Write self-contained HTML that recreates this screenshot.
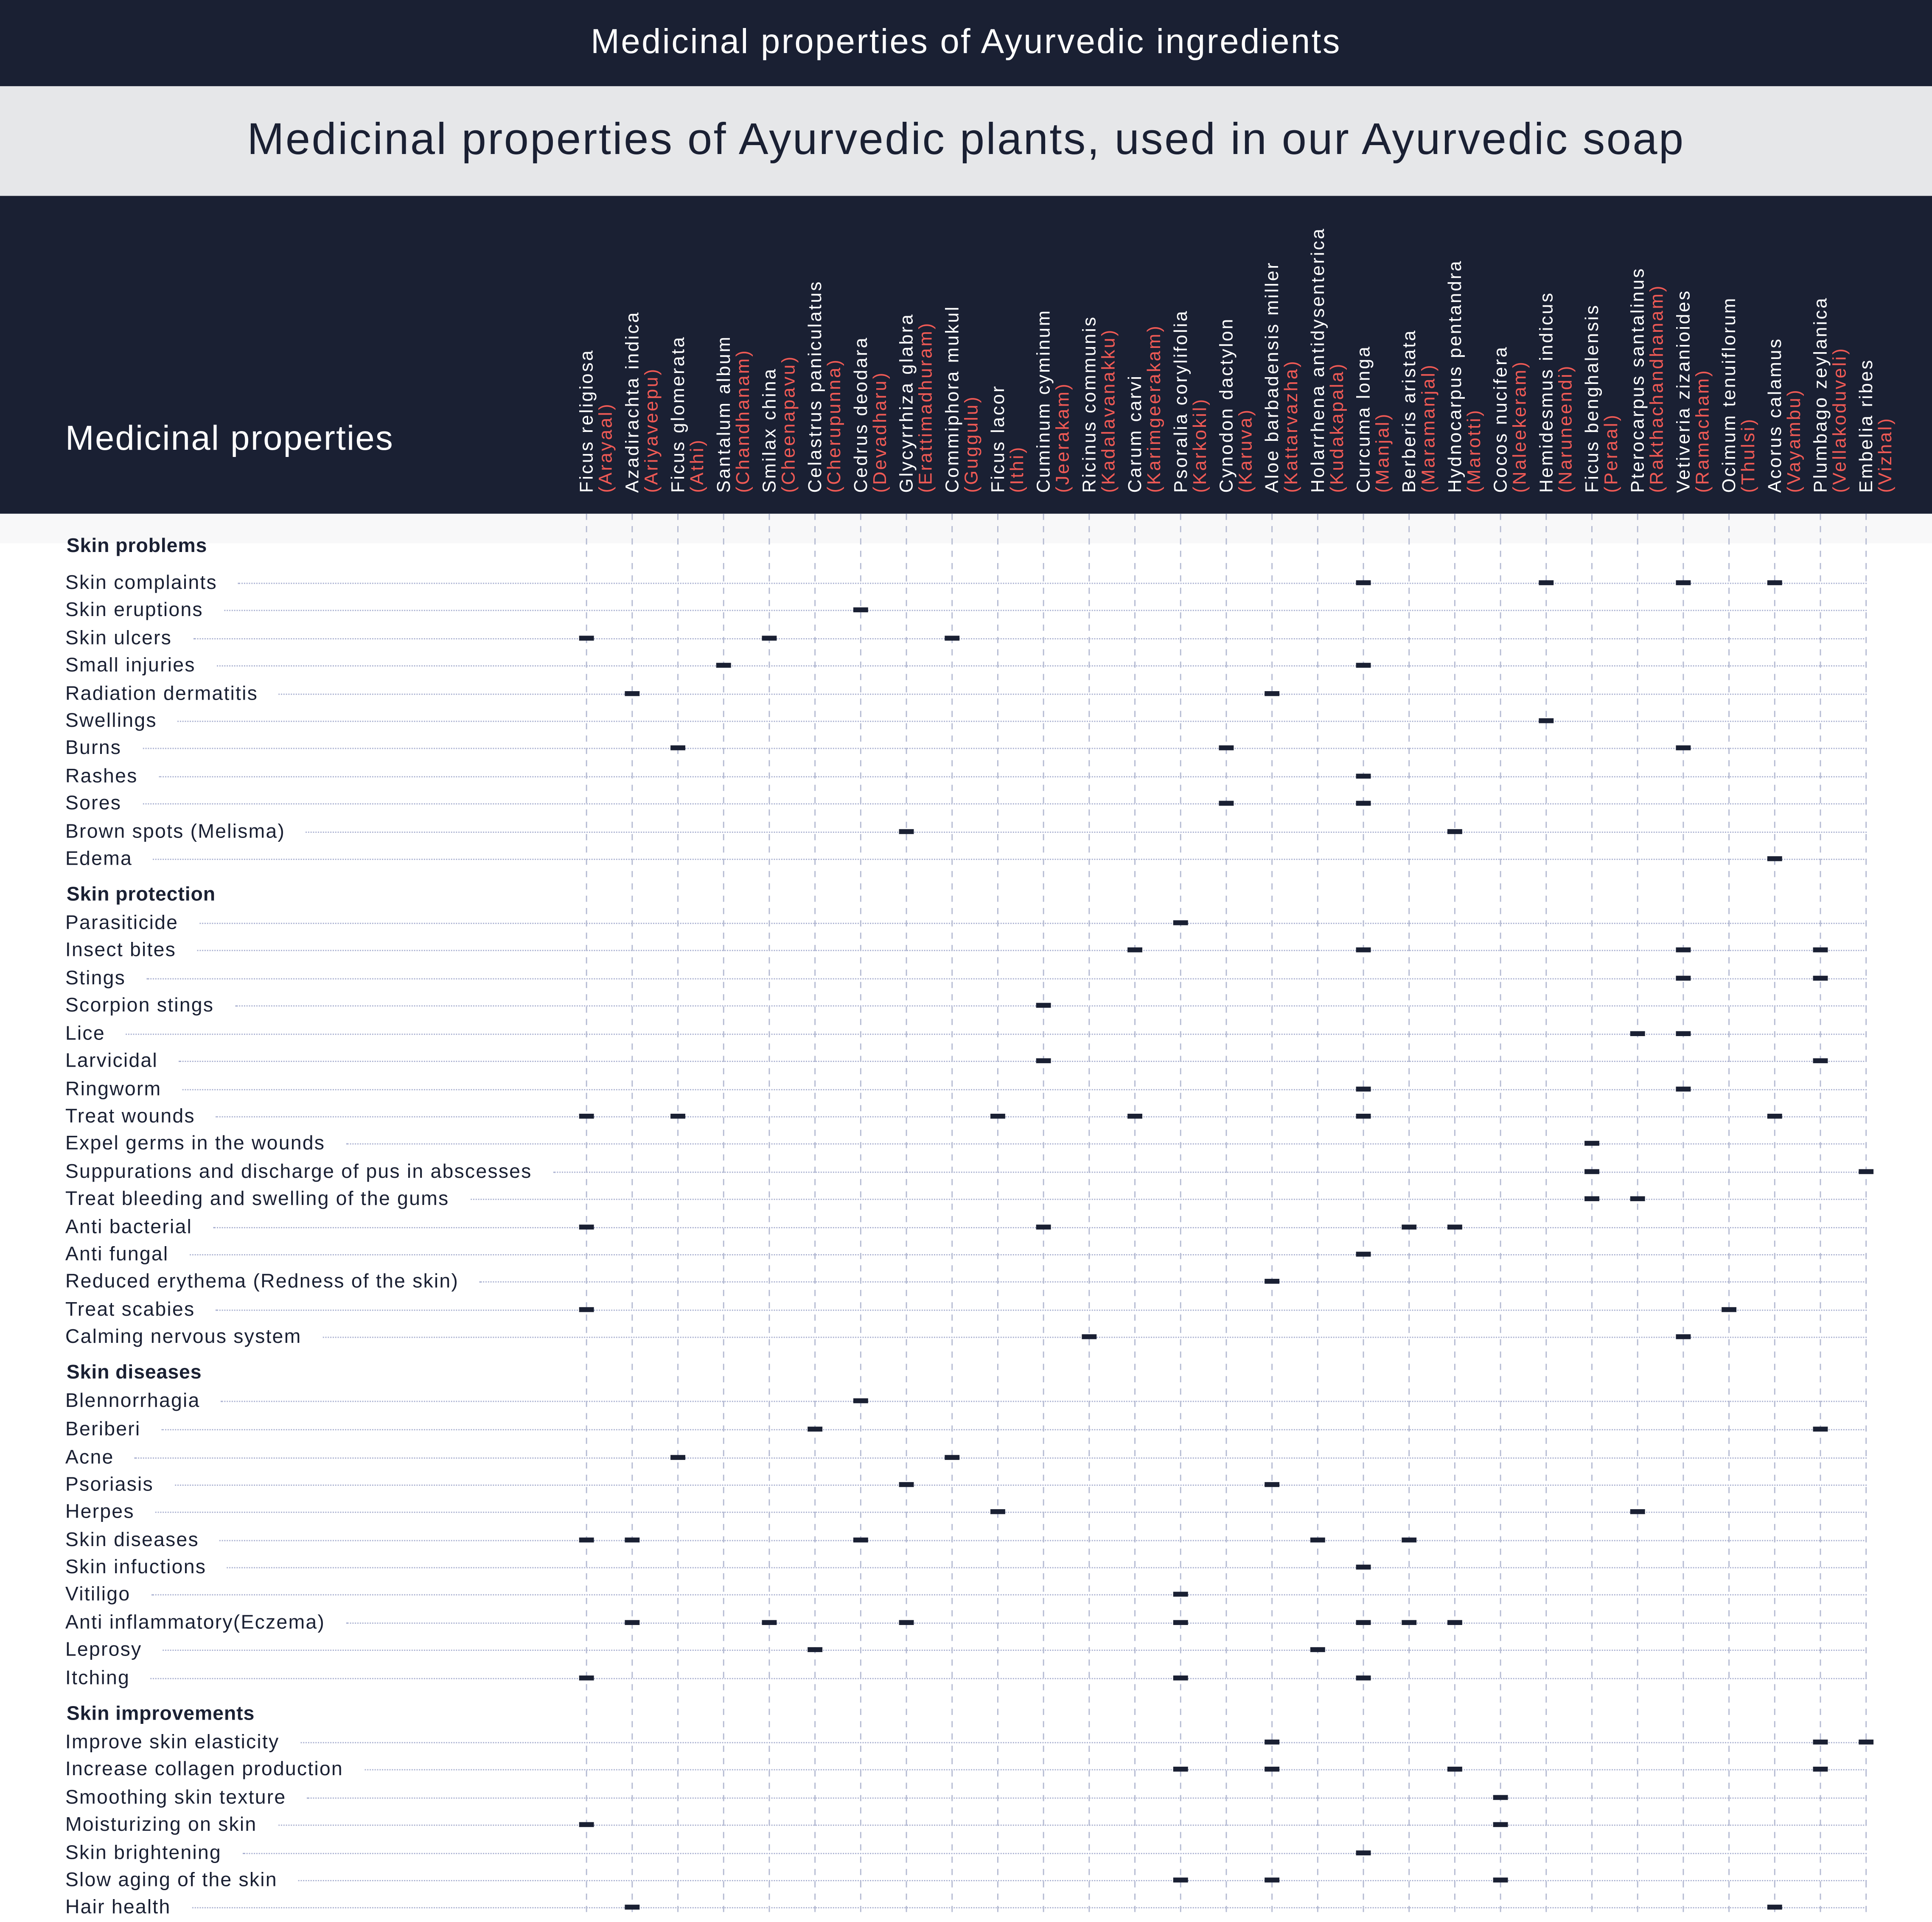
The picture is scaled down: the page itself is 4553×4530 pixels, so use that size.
<!DOCTYPE html>
<html><head><meta charset="utf-8">
<style>
html,body{margin:0;padding:0;background:#fff;}
body{width:4553px;height:4514px;overflow:hidden;position:relative;}
#c{position:absolute;left:0;top:0;width:1568px;height:1555px;transform:scale(2.9037);transform-origin:0 0;font-family:"Liberation Sans",sans-serif;color:#1a2033;}
.bar1{position:absolute;left:0;top:0;width:1568px;height:70px;background:#1a2033;color:#fff;font-size:28px;text-align:center;line-height:68px;letter-spacing:1.2px;}
.bar2{position:absolute;left:0;top:70px;width:1568px;height:89px;background:#e6e7e9;color:#1a2033;font-size:36px;text-align:center;line-height:86px;letter-spacing:1.2px;}
.bar3{position:absolute;left:0;top:159px;width:1568px;height:258px;background:#1a2033;}
.mp{position:absolute;left:53px;top:340px;color:#fff;font-size:28px;letter-spacing:0.8px;}
.band{position:absolute;left:0;top:417px;width:1568px;height:24px;background:#f8f8f9;}
.row{position:absolute;left:53px;width:1462px;height:22px;display:flex;align-items:center;}
.row span{font-size:16px;white-space:nowrap;padding-right:17px;line-height:22px;letter-spacing:0.75px;position:relative;top:1px;}
.row i{flex:1;border-top:1px dotted #a9b0d0;height:0;}
.hd{position:absolute;left:54px;font-size:16px;font-weight:bold;line-height:22px;letter-spacing:0.3px;}
svg{position:absolute;left:0;top:0;}
</style></head><body>
<div id="c">
<div class="bar1">Medicinal properties of Ayurvedic ingredients</div>
<div class="bar2">Medicinal properties of Ayurvedic plants, used in our Ayurvedic soap</div>
<div class="bar3"></div>
<div class="mp">Medicinal properties</div>
<div class="band"></div>
<div id="rows"></div>
<svg id="s" width="1568" height="1555" viewBox="0 0 1568 1555"></svg>
</div>
<script>
var cols=[["Ficus religiosa","(Arayaal)"],["Azadirachta indica","(Ariyaveepu)"],["Ficus glomerata","(Athi)"],["Santalum album","(Chandhanam)"],["Smilax china","(Cheenapavu)"],["Celastrus paniculatus","(Cherupunna)"],["Cedrus deodara","(Devadharu)"],["Glycyrrhiza glabra","(Erattimadhuram)"],["Commiphora mukul","(Guggulu)"],["Ficus lacor","(Ithi)"],["Cuminum cyminum","(Jeerakam)"],["Ricinus communis","(Kadalavanakku)"],["Carum carvi","(Karimgeerakam)"],["Psoralia corylifolia","(Karkokil)"],["Cynodon dactylon","(Karuva)"],["Aloe barbadensis miller","(Kattarvazha)"],["Holarrhena antidysenterica","(Kudakapala)"],["Curcuma longa","(Manjal)"],["Berberis aristata","(Maramanjal)"],["Hydnocarpus pentandra","(Marotti)"],["Cocos nucifera","(Naleekeram)"],["Hemidesmus indicus","(Naruneendi)"],["Ficus benghalensis","(Peraal)"],["Pterocarpus santalinus","(Rakthachandhanam)"],["Vetiveria zizanioides","(Ramacham)"],["Ocimum tenuiflorum","(Thulsi)"],["Acorus calamus","(Vayambu)"],["Plumbago zeylanica","(Vellakoduveli)"],["Embelia ribes","(Vizhal)"]];
var rows=[
["H","Skin problems",444],
["Skin complaints",473,[17,21,24,26]],["Skin eruptions",495,[6]],["Skin ulcers",518,[0,4,8]],["Small injuries",540,[3,17]],["Radiation dermatitis",563,[1,15]],["Swellings",585,[21]],["Burns",607,[2,14,24]],["Rashes",630,[17]],["Sores",652,[14,17]],["Brown spots (Melisma)",675,[7,19]],["Edema",697,[26]],
["H","Skin protection",727],
["Parasiticide",749,[13]],["Insect bites",771,[12,17,24,27]],["Stings",794,[24,27]],["Scorpion stings",816,[10]],["Lice",839,[23,24]],["Larvicidal",861,[10,27]],["Ringworm",884,[17,24]],["Treat wounds",906,[0,2,9,12,17,26]],["Expel germs in the wounds",928,[22]],["Suppurations and discharge of pus in abscesses",951,[22,28]],["Treat bleeding and swelling of the gums",973,[22,23]],["Anti bacterial",996,[0,10,18,19]],["Anti fungal",1018,[17]],["Reduced erythema (Redness of the skin)",1040,[15]],["Treat scabies",1063,[0,25]],["Calming nervous system",1085,[11,24]],
["H","Skin diseases",1115],
["Blennorrhagia",1137,[6]],["Beriberi",1160,[5,27]],["Acne",1183,[2,8]],["Psoriasis",1205,[7,15]],["Herpes",1227,[9,23]],["Skin diseases",1250,[0,1,6,16,18]],["Skin infuctions",1272,[17]],["Vitiligo",1294,[13]],["Anti inflammatory(Eczema)",1317,[1,4,7,13,17,18,19]],["Leprosy",1339,[5,16]],["Itching",1362,[0,13,17]],
["H","Skin improvements",1392],
["Improve skin elasticity",1414,[15,27,28]],["Increase collagen production",1436,[13,15,19,27]],["Smoothing skin texture",1459,[20]],["Moisturizing on skin",1481,[0,20]],["Skin brightening",1504,[17]],["Slow aging of the skin",1526,[13,15,20]],["Hair health",1548,[1,26]]];
function cx(i){return 476+37.09*i;}
var h="";
rows.forEach(function(r){
 if(r[0]=="H"){h+='<div class="hd" style="top:'+(r[2]-11)+'px">'+r[1]+'</div>';}
 else{h+='<div class="row" style="top:'+(r[1]-11)+'px"><span>'+r[0]+'</span><i></i></div>';}
});
document.getElementById("rows").innerHTML=h;
var s="";
cols.forEach(function(c,i){
 var x=cx(i);
 s+='<line x1="'+x+'" y1="417" x2="'+x+'" y2="1555" stroke="#b4bad2" stroke-width="1" stroke-dasharray="5,5"/>';
 s+='<text transform="translate('+(x+5)+',400) rotate(-90)" font-size="15" fill="#fff" letter-spacing="1.4">'+c[0]+'</text>';
 s+='<text transform="translate('+(x+20.5)+',400) rotate(-90)" font-size="15" fill="#f05a55" letter-spacing="1.4">'+c[1]+'</text>';
});
rows.forEach(function(r){
 if(r[0]=="H")return;
 r[2].forEach(function(i){s+='<rect x="'+(cx(i)-6)+'" y="'+(r[1]-2)+'" width="12" height="4" fill="#1a2033"/>';});
});
document.getElementById("s").innerHTML=s;
</script>
</body></html>
